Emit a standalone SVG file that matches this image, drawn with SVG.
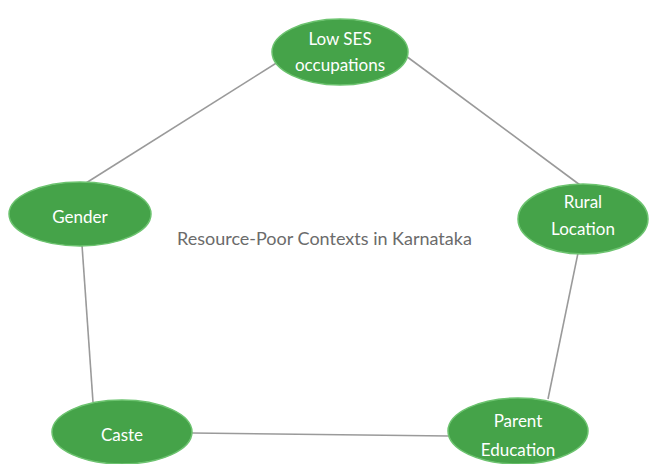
<svg xmlns="http://www.w3.org/2000/svg" width="651" height="464" viewBox="0 0 651 464">
<style>
.node ellipse{fill:#45a349;stroke:#6cc36f;stroke-width:1.5}
.node text{fill:#ffffff;font-family:Lato,"Open Sans",sans-serif;font-size:17px;text-anchor:middle}
.edges line{stroke:#9a9a9a;stroke-width:1.6}
.title{fill:#6b6b6b;font-family:Lato,"Open Sans",sans-serif;font-size:18px}
</style>
<rect width="651" height="464" fill="#ffffff"/>
<g id="edges" class="edges">
<line x1="278" y1="62" x2="86" y2="183"/>
<line x1="406" y1="56" x2="580" y2="185"/>
<line x1="82" y1="245" x2="93" y2="402"/>
<line x1="192" y1="433" x2="449" y2="436"/>
<line x1="578" y1="253" x2="548" y2="399"/>
</g>
<g id="low-ses" class="node">
<ellipse cx="340" cy="52" rx="68" ry="33"/>
<text x="340" y="45">Low SES</text>
<text x="340" y="71">occupations</text>
</g>
<g id="gender" class="node">
<ellipse cx="80" cy="214" rx="71" ry="32"/>
<text x="80" y="223">Gender</text>
</g>
<g id="rural" class="node">
<ellipse cx="583" cy="219" rx="65" ry="35"/>
<text x="583" y="208">Rural</text>
<text x="583" y="235">Location</text>
</g>
<g id="caste" class="node">
<ellipse cx="122" cy="432" rx="70" ry="32"/>
<text x="122" y="441">Caste</text>
</g>
<g id="parent" class="node">
<ellipse cx="518" cy="431" rx="70" ry="33"/>
<text x="518" y="427">Parent</text>
<text x="518" y="456">Education</text>
</g>
<text class="title" x="177" y="245">Resource-Poor Contexts in Karnataka</text>
</svg>
